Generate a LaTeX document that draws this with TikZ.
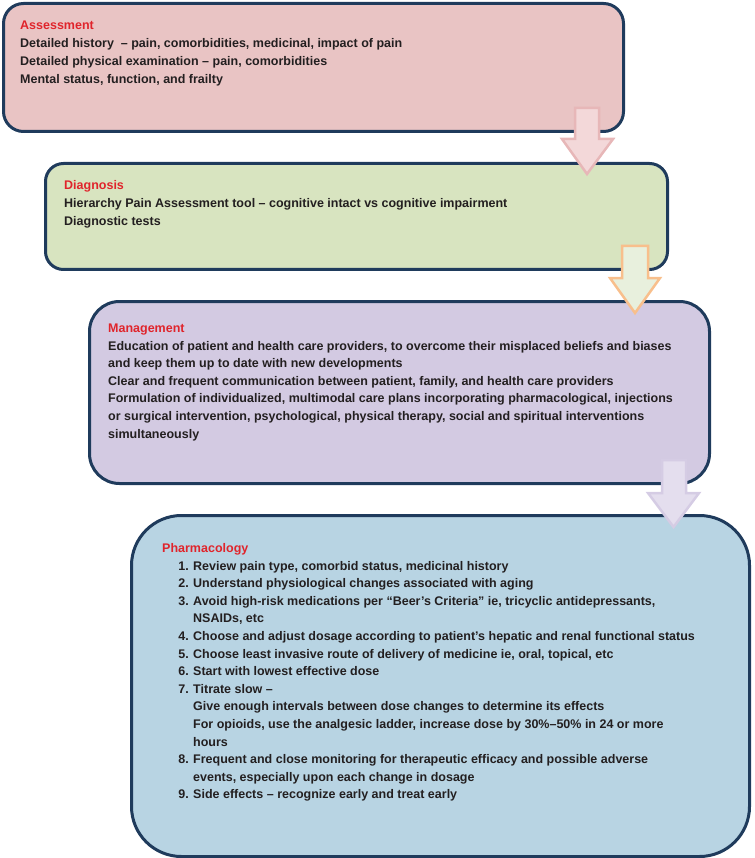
\documentclass[tikz,border=0pt]{standalone}
\usepackage{fontspec}
\setmainfont{Liberation Sans}
\definecolor{navy}{HTML}{1F3B5C}
\definecolor{titlered}{HTML}{E0242B}
\definecolor{txtdark}{HTML}{231F20}
\definecolor{fillA}{HTML}{E9C4C4}
\definecolor{fillB}{HTML}{D8E4C0}
\definecolor{fillC}{HTML}{D3CAE2}
\definecolor{fillD}{HTML}{B8D4E3}
\definecolor{arrAfill}{HTML}{F3D8D9}
\definecolor{arrAdraw}{HTML}{E7B7B8}
\definecolor{arrBfill}{HTML}{E8F0DD}
\definecolor{arrBdraw}{HTML}{F8BF8C}
\definecolor{arrCfill}{HTML}{E4DEEE}
\definecolor{arrCdraw}{HTML}{D5CCE4}
\tikzset{
  box/.style={draw=navy, line width=3pt, inner sep=0pt, anchor=north west},
  ttl/.style={text=titlered, font=\fontsize{12.5}{15}\selectfont\bfseries, anchor=base west, inner sep=0pt},
  txt/.style={text=txtdark, font=\fontsize{12.5}{15}\selectfont\bfseries, anchor=base west, inner sep=0pt},
  num/.style={txt, anchor=base east},
  blockarrow/.style={line width=2.5pt, line join=miter}
}
\begin{document}
\begin{tikzpicture}[x=1pt,y=-1pt]
\useasboundingbox (0,0) rectangle (754,858);
% boxes
\node[box, fill=fillA, rounded corners=20pt, minimum width=620pt, minimum height=128pt] (assess) at (2,2) {};
\node[box, fill=fillB, rounded corners=18pt, minimum width=622pt, minimum height=106pt] (diag) at (44,162) {};
\node[box, fill=fillC, rounded corners=30pt, minimum width=620pt, minimum height=182pt] (manag) at (88,300) {};
\node[box, fill=fillD, rounded corners=50pt, minimum width=618pt, minimum height=341pt] (pharm) at (130,514) {};
% Assessment
\node[ttl] (t1) at (20,29.5) {Assessment};
\node[txt] (a1) at (20,47.5) {Detailed history \ – pain, comorbidities, medicinal, impact of pain};
\node[txt] (a2) at (20,65.5) {Detailed physical examination – pain, comorbidities};
\node[txt] (a3) at (20,83.5) {Mental status, function, and frailty};
% Diagnosis
\node[ttl] (t2) at (64,189.5) {Diagnosis};
\node[txt] (d1) at (64,207.5) {Hierarchy Pain Assessment tool – cognitive intact vs cognitive impairment};
\node[txt] (d2) at (64,225.5) {Diagnostic tests};
% Management
\node[ttl] (t3) at (108,332.5) {Management};
\node[txt] (m1) at (108,350.1) {Education of patient and health care providers, to overcome their misplaced beliefs and biases};
\node[txt] (m2) at (108,367.7) {and keep them up to date with new developments};
\node[txt] (m3) at (108,385.3) {Clear and frequent communication between patient, family, and health care providers};
\node[txt] (m4) at (108,402.9) {Formulation of individualized, multimodal care plans incorporating pharmacological, injections};
\node[txt] (m5) at (108,420.5) {or surgical intervention, psychological, physical therapy, social and spiritual interventions};
\node[txt] (m6) at (108,438.1) {simultaneously};
% Pharmacology
\node[ttl] (t4) at (162,552.5) {Pharmacology};
\node[num] (n1) at (189,570.1) {1.};
\node[txt] (p1) at (193,570.1) {Review pain type, comorbid status, medicinal history};
\node[num] (n2) at (189,587.7) {2.};
\node[txt] (p2) at (193,587.7) {Understand physiological changes associated with aging};
\node[num] (n3) at (189,605.3) {3.};
\node[txt] (p3) at (193,605.3) {Avoid high-risk medications per “Beer’s Criteria” ie, tricyclic antidepressants,};
\node[txt] (p3b) at (193,622.9) {NSAIDs, etc};
\node[num] (n4) at (189,640.5) {4.};
\node[txt] (p4) at (193,640.5) {Choose and adjust dosage according to patient’s hepatic and renal functional status};
\node[num] (n5) at (189,658.1) {5.};
\node[txt] (p5) at (193,658.1) {Choose least invasive route of delivery of medicine ie, oral, topical, etc};
\node[num] (n6) at (189,675.7) {6.};
\node[txt] (p6) at (193,675.7) {Start with lowest effective dose};
\node[num] (n7) at (189,693.3) {7.};
\node[txt] (p7) at (193,693.3) {Titrate slow –};
\node[txt] (p7b) at (193,710.9) {Give enough intervals between dose changes to determine its effects};
\node[txt] (p7c) at (193,728.5) {For opioids, use the analgesic ladder, increase dose by 30\%–50\% in 24 or more};
\node[txt] (p7d) at (193,746.1) {hours};
\node[num] (n8) at (189,763.7) {8.};
\node[txt] (p8) at (193,763.7) {Frequent and close monitoring for therapeutic efficacy and possible adverse};
\node[txt] (p8b) at (193,781.3) {events, especially upon each change in dosage};
\node[num] (n9) at (189,798.9) {9.};
\node[txt] (p9) at (193,798.9) {Side effects – recognize early and treat early};
% block arrows
\draw[blockarrow, fill=arrAfill, draw=arrAdraw]
  (575,108) -- (599,108) -- (599,139) -- (613,139) -- (587,174) -- (562,139) -- (575,139) -- cycle;
\draw[blockarrow, fill=arrBfill, draw=arrBdraw]
  (622,246) -- (648,246) -- (648,278) -- (660,278) -- (635,313) -- (610,278) -- (622,278) -- cycle;
\draw[blockarrow, fill=arrCfill, draw=arrCdraw]
  (662,460) -- (686,460) -- (686,493) -- (699,493) -- (673.5,527) -- (648,493) -- (662,493) -- cycle;
\end{tikzpicture}
\end{document}
